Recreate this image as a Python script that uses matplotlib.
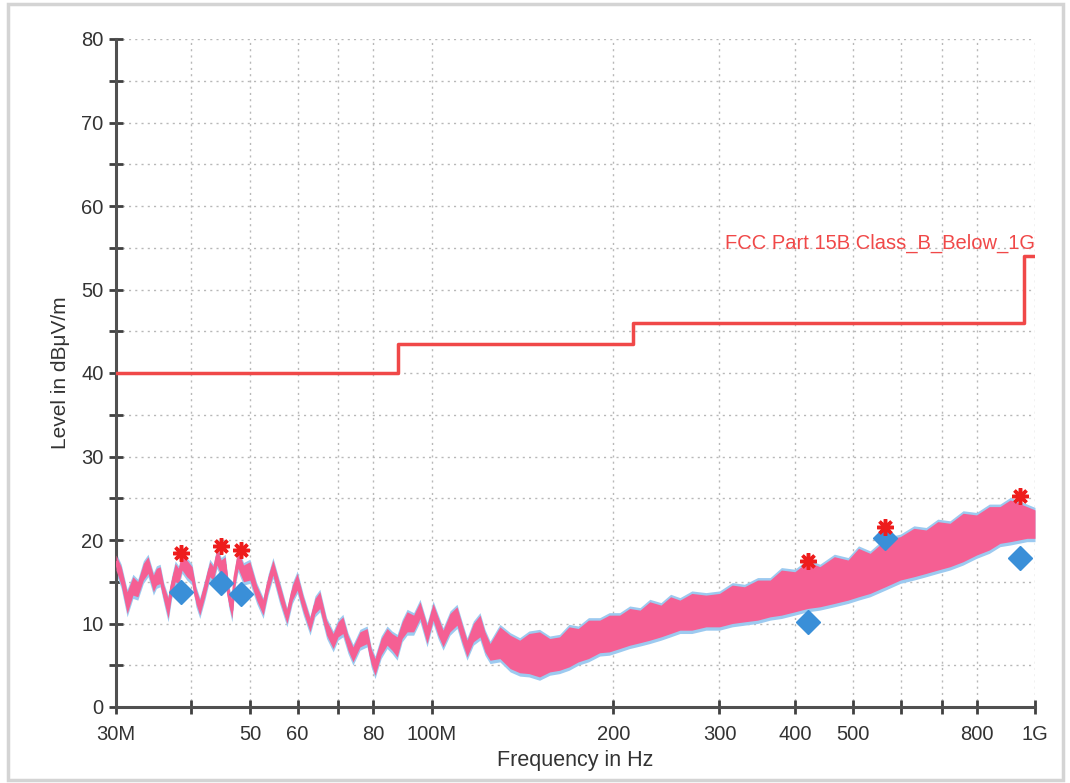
import numpy as np
import matplotlib
matplotlib.use("Agg")
import matplotlib.pyplot as plt
from matplotlib.patches import Rectangle
from matplotlib.ticker import FixedLocator, NullLocator, FixedFormatter

plt.rcParams['font.family'] = ['Liberation Sans', 'DejaVu Sans']

trace_freq = [30, 30.6, 31.3, 32.0, 32.6, 33.3, 33.9, 34.6, 35.0, 35.5,
              36.0, 36.6, 37.1, 37.6, 38.1, 38.6, 39.3, 40.1, 40.7, 41.3,
              42.1, 42.9, 43.5, 44.1, 44.8, 45.5, 46.1, 46.7, 47.2, 47.8,
              48.8, 50.0, 51.3, 52.6, 53.6, 54.6, 56.0, 57.6, 58.8, 59.9,
              61.3, 62.9, 64.1, 65.3, 67.0, 68.7, 70.0, 71.3, 72.7, 74.1,
              76.1, 78.2, 79.4, 80.6, 82.5, 84.4, 86.0, 87.7, 89.4, 91.1,
              93.4, 95.7, 98.3, 100.6, 102.5, 104.5, 107.3, 110.2, 112.3, 114.5,
              117.3, 120.3, 122.6, 125, 129.8, 135, 140, 145, 151, 157,
              163, 169, 175, 182, 190, 197, 205, 213, 221.6, 230,
              240, 249, 258, 270, 285, 300, 315, 330, 347, 364,
              380, 400, 420, 440, 465, 490, 510, 533, 565, 598,
              630, 660, 690, 723, 760, 800, 840, 875, 910, 940,
              970, 1000]
trace_hi = [18.2, 16.8, 13.8, 15.6, 15.0, 17.2, 18.0, 15.8, 16.6, 16.8,
            14.6, 13.0, 15.4, 17.2, 16.6, 18.4, 17.6, 16.8, 14.2, 12.8,
            15.0, 17.4, 16.8, 19.0, 17.6, 18.0, 14.4, 12.6, 16.4, 18.8,
            17.0, 17.4, 14.6, 12.8, 15.6, 17.6, 14.8, 11.6, 14.6, 16.0,
            13.2, 10.6, 13.0, 13.8, 10.4, 8.8, 10.2, 10.8, 8.6, 7.2,
            9.0, 9.4, 7.0, 5.8, 8.2, 9.4, 8.8, 8.4, 10.2, 11.4,
            11.0, 12.6, 9.8, 12.4, 10.8, 9.2, 11.2, 12.0, 10.0, 8.0,
            10.0, 11.0, 9.0, 7.6, 9.6, 8.6, 8.0, 8.8, 9.0, 8.2,
            8.4, 9.6, 9.4, 10.4, 10.4, 11.0, 11.0, 11.8, 11.6, 12.6,
            12.2, 13.2, 12.8, 13.6, 13.4, 13.6, 14.6, 14.4, 15.2, 15.2,
            16.4, 16.2, 17.4, 16.8, 18.0, 17.6, 19.0, 18.4, 20.0, 20.4,
            21.4, 21.2, 22.2, 22.0, 23.2, 23.0, 24.0, 24.0, 24.8, 24.4,
            24.0, 23.6]
trace_lo = [16.4, 14.6, 11.2, 13.4, 13.2, 15.2, 16.0, 13.8, 14.6, 14.8,
            12.8, 10.6, 13.4, 15.0, 14.8, 16.4, 15.6, 15.0, 12.4, 11.0,
            13.2, 15.6, 15.2, 17.0, 15.8, 16.0, 12.4, 10.6, 14.6, 16.6,
            15.0, 15.2, 12.8, 11.0, 13.8, 15.8, 12.8, 10.0, 12.8, 14.0,
            11.4, 9.0, 11.2, 11.8, 8.6, 7.0, 8.4, 8.8, 6.8, 5.4,
            7.2, 7.6, 5.2, 3.8, 6.2, 7.4, 6.8, 6.0, 8.2, 9.0,
            9.0, 10.6, 7.6, 10.4, 8.6, 7.2, 9.0, 9.8, 7.8, 6.0,
            7.8, 8.4, 6.6, 5.6, 5.8, 4.6, 4.1, 4.0, 3.6, 4.2,
            4.4, 4.8, 5.4, 5.8, 6.5, 6.6, 7.0, 7.4, 7.7, 8.0,
            8.4, 8.8, 9.2, 9.2, 9.6, 9.6, 10.0, 10.2, 10.4, 10.8,
            11.0, 11.4, 11.8, 12.0, 12.4, 12.8, 13.2, 13.6, 14.4, 15.2,
            15.6, 16.0, 16.4, 16.8, 17.4, 18.2, 18.8, 19.6, 19.8, 20.0,
            20.2, 20.2]

# limit line FCC Part 15B class B
limit_freq = [30, 88, 216, 960, 1000]
limit_level = [40, 43.5, 46, 54, 54]

# final measurement points
peak_freq = [38.4, 44.8, 48.3, 421, 564, 945]
peak_level = [18.4, 19.3, 18.8, 17.5, 21.6, 25.3]
qp_freq = [38.4, 44.8, 48.3, 421, 564, 945]
qp_level = [13.8, 14.9, 13.5, 10.2, 20.2, 17.8]

xticks = [30, 40, 50, 60, 70, 80, 100, 200, 300, 400, 500, 600, 700, 800, 1000]
xtick_labels = ['30M', '', '50', '60', '', '80', '100M', '200', '300', '400',
                '500', '', '', '800', '1G']

fig = plt.figure(figsize=(10.7, 7.83), dpi=100)
ax = fig.add_axes([116/1070, 1 - 707/783, (1035 - 116)/1070, (707 - 39)/783])

fig.patches.append(Rectangle((8/1070, 3/783), 1055/1070, 776/783,
                             transform=fig.transFigure, fill=False,
                             edgecolor='#d4d4d4', linewidth=2.5))

lo = np.array(trace_lo)
hi = np.array(trace_hi)
ax.fill_between(trace_freq, lo - 0.4, hi + 0.3, color='#9ccaf0', lw=0, zorder=2)
ax.fill_between(trace_freq, lo, hi, color='#f55f93', lw=0, zorder=3)
ax.plot(trace_freq, (lo + hi) / 2, color='#f55f93', lw=2, zorder=3)

ax.step(limit_freq, limit_level, where='post', color='#f04848', lw=2.5, zorder=4)
ax.text(1000, 54.4, 'FCC Part 15B Class_B_Below_1G', color='#f04848',
        fontsize=14.5, ha='right', va='bottom', zorder=5)

ax.plot(qp_freq, qp_level, linestyle='none', marker='D', markersize=12.5,
        color='#3a8fd8', zorder=6)
ax.plot(peak_freq, peak_level, linestyle='none', marker=(8, 2, 0), markersize=12,
        markeredgewidth=2.5, color='#ee1c1c', zorder=7)

ax.set_xscale('log')
ax.set_xlim(30, 1000)
ax.set_ylim(0, 80)
ax.xaxis.set_major_locator(FixedLocator(xticks))
ax.xaxis.set_major_formatter(FixedFormatter(xtick_labels))
ax.xaxis.set_minor_locator(NullLocator())
ax.set_yticks(range(0, 81, 10))
ax.set_yticks(range(5, 80, 10), minor=True)

ax.grid(which='both', color='#b8b8b8', linestyle=(0, (1.5, 3)), linewidth=1)
ax.set_axisbelow(True)
for s in ['top', 'right']:
    ax.spines[s].set_visible(False)
for s in ['left', 'bottom']:
    ax.spines[s].set_color('#505050')
    ax.spines[s].set_linewidth(2.2)
ax.tick_params(which='both', direction='inout', length=10, width=2,
               color='#404040', labelsize=14.5, labelcolor='#333333')
ax.tick_params(axis='x', pad=8)
ax.tick_params(axis='y', pad=4)

ax.set_xlabel('Frequency in Hz', fontsize=15.5, color='#333333', labelpad=4)
ax.set_ylabel('Level in dBμV/m', fontsize=15, color='#333333', labelpad=8)

fig.savefig('out.png', dpi=100)
